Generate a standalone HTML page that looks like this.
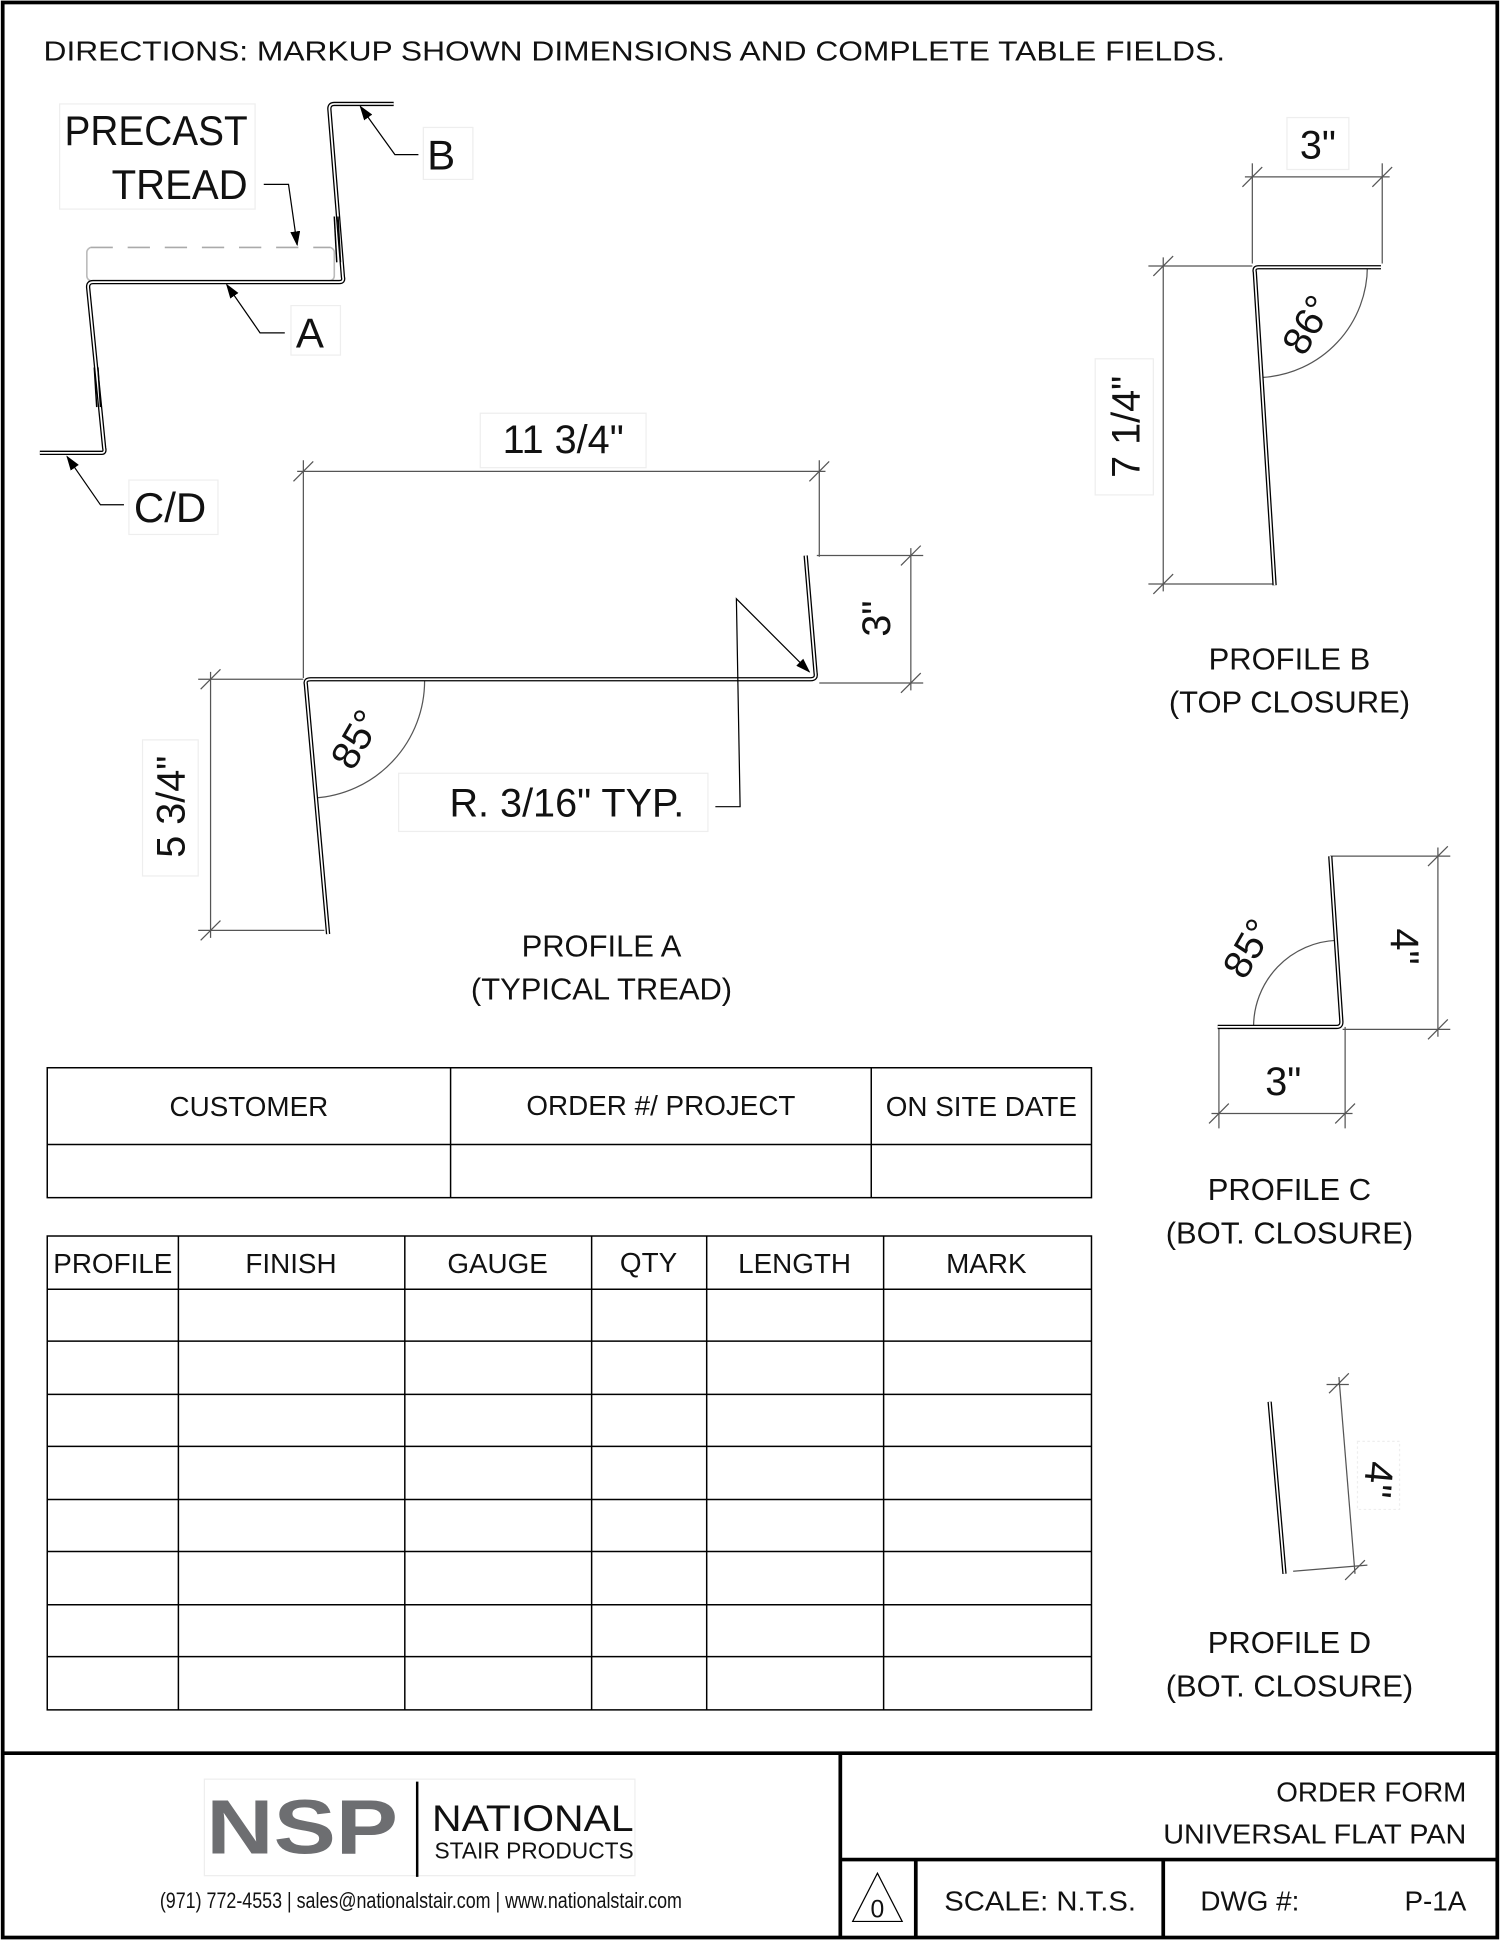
<!DOCTYPE html>
<html><head><meta charset="utf-8"><style>
html,body{margin:0;padding:0;background:#fff}
svg{display:block}
text{font-family:"Liberation Sans",sans-serif;fill:#111}
</style></head><body>
<svg width="1500" height="1940" viewBox="0 0 1212 1568" xmlns="http://www.w3.org/2000/svg">
<defs>
<marker id="ar" markerWidth="12" markerHeight="8" refX="11" refY="4" orient="auto" markerUnits="userSpaceOnUse"><path d="M0,0 L12,4 L0,8 z" fill="#000"/></marker>
</defs>
<rect x="2" y="2" width="1208" height="1564" fill="#fff" stroke="#000" stroke-width="3"/>
<text x="35" y="49" font-size="22.5" textLength="955" lengthAdjust="spacingAndGlyphs">DIRECTIONS: MARKUP SHOWN DIMENSIONS AND COMPLETE TABLE FIELDS.</text>

<!-- isometric -->
<rect x="70" y="200" width="200" height="27" rx="4" fill="none" stroke="#bbb" stroke-width="1.3"/>
<line x1="73" y1="200" x2="267" y2="200" stroke="#fff" stroke-width="2"/>
<line x1="73" y1="200" x2="267" y2="200" stroke="#aaa" stroke-width="1.3" stroke-dasharray="18,12"/>
<path d="M32,366 L82,366 Q85,366 84,362 L71,232 Q71,228 75,228 L274,228 Q278,228 277,224 L266,88 Q266,84 270,84 L318,84" fill="none" stroke="#000" stroke-width="3.5" stroke-linejoin="round"/>
<path d="M32,366 L82,366 Q85,366 84,362 L71,232 Q71,228 75,228 L274,228 Q278,228 277,224 L266,88 Q266,84 270,84 L318,84" fill="none" stroke="#fff" stroke-width="1.4" stroke-linejoin="round"/>
<line x1="273" y1="175" x2="275" y2="212" stroke="#000" stroke-width="1.2"/>
<line x1="270" y1="175" x2="272" y2="212" stroke="#000" stroke-width="1.2"/>
<line x1="79" y1="297" x2="81" y2="329" stroke="#000" stroke-width="1.2"/>
<line x1="76" y1="297" x2="78" y2="329" stroke="#000" stroke-width="1.2"/>
<rect x="48" y="84" width="158" height="85" fill="#fff" stroke="#eee" stroke-width="1"/>
<text x="200" y="117" font-size="34" text-anchor="end" textLength="148" lengthAdjust="spacingAndGlyphs">PRECAST</text>
<text x="200" y="161" font-size="34" text-anchor="end" textLength="110" lengthAdjust="spacingAndGlyphs">TREAD</text>
<polyline points="213,149 233,149 240,198" fill="none" stroke="#000" stroke-width="1" marker-end="url(#ar)"/>
<polyline points="338,125 319,125 291,86" fill="none" stroke="#000" stroke-width="1" marker-end="url(#ar)"/>
<rect x="342" y="103" width="40" height="42" fill="#fff" stroke="#eee"/>
<text x="345" y="137" font-size="34">B</text>
<polyline points="230,269 210,269 183,230" fill="none" stroke="#000" stroke-width="1" marker-end="url(#ar)"/>
<rect x="235" y="247" width="40" height="40" fill="#fff" stroke="#eee"/>
<text x="239" y="281" font-size="34">A</text>
<polyline points="100,408 81,408 54,369" fill="none" stroke="#000" stroke-width="1" marker-end="url(#ar)"/>
<rect x="104" y="388" width="72" height="44" fill="#fff" stroke="#eee"/>
<text x="108" y="422" font-size="34">C/D</text>

<!-- Profile A -->
<g stroke="#555" stroke-width="1" fill="none">
<line x1="245" y1="372" x2="245" y2="548"/><line x1="662" y1="372" x2="662" y2="450"/>
<line x1="240" y1="381" x2="667" y2="381"/>
<line x1="237" y1="389" x2="253" y2="373"/><line x1="654" y1="389" x2="670" y2="373"/>
<line x1="660" y1="449" x2="746" y2="449"/><line x1="662" y1="552" x2="746" y2="552"/>
<line x1="736" y1="443" x2="736" y2="558"/>
<line x1="728" y1="457" x2="744" y2="441"/><line x1="728" y1="560" x2="744" y2="544"/>
<line x1="160" y1="549" x2="245" y2="549"/><line x1="160" y1="752" x2="262" y2="752"/>
<line x1="170" y1="543" x2="170" y2="758"/>
<line x1="162" y1="557" x2="178" y2="541"/><line x1="162" y1="760" x2="178" y2="744"/>
<path d="M343,550 A95,95 0 0 1 254,645"/>
</g>
<path d="M265,755 L247,553 Q246,549 251,549 L655,549 Q660,549 659,544 L651,449" fill="none" stroke="#000" stroke-width="3.5" stroke-linejoin="round"/>
<path d="M265,755 L247,553 Q246,549 251,549 L655,549 Q660,549 659,544 L651,449" fill="none" stroke="#fff" stroke-width="1.4" stroke-linejoin="round"/>
<rect x="388" y="334" width="134" height="44" fill="#fff" stroke="#eee"/>
<text x="455" y="366" font-size="32" text-anchor="middle">11 3/4"</text>
<text transform="translate(719,500) rotate(-90)" font-size="32" text-anchor="middle">3"</text>
<rect x="115" y="598" width="45" height="110" fill="#fff" stroke="#eee"/>
<text transform="translate(149,652) rotate(-90)" font-size="32" text-anchor="middle">5 3/4"</text>
<text transform="translate(297,603) rotate(-60)" font-size="32" text-anchor="middle">85°</text>
<polyline points="578,652 598,652 595,484 654,543" fill="none" stroke="#000" stroke-width="1" marker-end="url(#ar)"/>
<rect x="322" y="625" width="250" height="47" fill="#fff" stroke="#eee"/>
<text x="458" y="660" font-size="32" text-anchor="middle">R. 3/16" TYP.</text>
<text x="486" y="773" font-size="25" text-anchor="middle">PROFILE A</text>
<text x="486" y="808" font-size="25" text-anchor="middle">(TYPICAL TREAD)</text>

<!-- Profile B -->
<g stroke="#555" stroke-width="1" fill="none">
<line x1="1012" y1="132" x2="1012" y2="213"/><line x1="1117" y1="132" x2="1117" y2="213"/>
<line x1="1006" y1="143" x2="1123" y2="143"/>
<line x1="1004" y1="151" x2="1020" y2="135"/><line x1="1109" y1="151" x2="1125" y2="135"/>
<line x1="928" y1="215" x2="1012" y2="215"/><line x1="928" y1="472" x2="1030" y2="472"/>
<line x1="940" y1="208" x2="940" y2="478"/>
<line x1="932" y1="223" x2="948" y2="207"/><line x1="932" y1="480" x2="948" y2="464"/>
<path d="M1105,215 A90,90 0 0 1 1021,305"/>
</g>
<path d="M1116,216 L1017,216 Q1013,216 1014,220 L1030,473" fill="none" stroke="#000" stroke-width="3.5" stroke-linejoin="round"/>
<path d="M1116,216 L1017,216 Q1013,216 1014,220 L1030,473" fill="none" stroke="#fff" stroke-width="1.4" stroke-linejoin="round"/>
<rect x="1040" y="95" width="50" height="42" fill="#fff" stroke="#eee"/>
<text x="1065" y="128" font-size="32" text-anchor="middle">3"</text>
<rect x="885" y="290" width="47" height="110" fill="#fff" stroke="#eee"/>
<text transform="translate(921,345) rotate(-90)" font-size="32" text-anchor="middle">7 1/4"</text>
<text transform="translate(1066,268) rotate(-60)" font-size="32" text-anchor="middle">86°</text>
<text x="1042" y="541" font-size="25" text-anchor="middle">PROFILE B</text>
<text x="1042" y="576" font-size="25" text-anchor="middle">(TOP CLOSURE)</text>

<!-- Profile C -->
<g stroke="#555" stroke-width="1" fill="none">
<line x1="1075" y1="692" x2="1172" y2="692"/><line x1="1085" y1="832" x2="1172" y2="832"/>
<line x1="1162" y1="685" x2="1162" y2="838"/>
<line x1="1154" y1="700" x2="1170" y2="684"/><line x1="1154" y1="840" x2="1170" y2="824"/>
<line x1="985" y1="830" x2="985" y2="912"/><line x1="1087" y1="830" x2="1087" y2="912"/>
<line x1="979" y1="900" x2="1093" y2="900"/>
<line x1="977" y1="908" x2="993" y2="892"/><line x1="1079" y1="908" x2="1095" y2="892"/>
<path d="M1013,830 A70,70 0 0 1 1080,760"/>
</g>
<path d="M984,830 L1080,830 Q1084,830 1084,826 L1075,692" fill="none" stroke="#000" stroke-width="3.5" stroke-linejoin="round"/>
<path d="M984,830 L1080,830 Q1084,830 1084,826 L1075,692" fill="none" stroke="#fff" stroke-width="1.4" stroke-linejoin="round"/>
<text transform="translate(1124,765) rotate(90)" font-size="32" text-anchor="middle">4"</text>
<text x="1037" y="885" font-size="32" text-anchor="middle">3"</text>
<text transform="translate(1018,772) rotate(-60)" font-size="32" text-anchor="middle">85°</text>
<text x="1042" y="970" font-size="25" text-anchor="middle">PROFILE C</text>
<text x="1042" y="1005" font-size="25" text-anchor="middle">(BOT. CLOSURE)</text>

<!-- Profile D -->
<path d="M1026,1133 L1038,1272" fill="none" stroke="#000" stroke-width="3.5"/>
<path d="M1026,1133 L1038,1272" fill="none" stroke="#fff" stroke-width="1.4"/>
<g stroke="#555" stroke-width="1" fill="none">
<line x1="1072" y1="1119" x2="1090" y2="1119"/><line x1="1045" y1="1270" x2="1105" y2="1265"/>
<line x1="1082" y1="1113" x2="1095" y2="1272"/>
<line x1="1074" y1="1126" x2="1090" y2="1110"/><line x1="1087" y1="1277" x2="1103" y2="1261"/>
</g>
<rect x="1097" y="1165" width="34" height="55" fill="#fff" stroke="#eee" stroke-dasharray="2,2"/>
<text transform="translate(1103,1195) rotate(95)" font-size="32" text-anchor="middle">4"</text>
<text x="1042" y="1336" font-size="25" text-anchor="middle">PROFILE D</text>
<text x="1042" y="1371" font-size="25" text-anchor="middle">(BOT. CLOSURE)</text>

<!-- Table 1 -->
<g stroke="#000" stroke-width="1.2" fill="none">
<rect x="38" y="863" width="844" height="105"/>
<line x1="38" y1="925" x2="882" y2="925"/>
<line x1="364" y1="863" x2="364" y2="968"/><line x1="704" y1="863" x2="704" y2="968"/>
</g>
<g font-size="22.5" text-anchor="middle">
<text x="201" y="902">CUSTOMER</text><text x="534" y="901">ORDER #/ PROJECT</text><text x="793" y="902">ON SITE DATE</text>
</g>
<!-- Table 2 -->
<g stroke="#000" stroke-width="1.2" fill="none">
<rect x="38" y="999" width="844" height="383"/>
<line x1="38" y1="1042" x2="882" y2="1042"/><line x1="38" y1="1084" x2="882" y2="1084"/>
<line x1="38" y1="1127" x2="882" y2="1127"/><line x1="38" y1="1169" x2="882" y2="1169"/>
<line x1="38" y1="1212" x2="882" y2="1212"/><line x1="38" y1="1254" x2="882" y2="1254"/>
<line x1="38" y1="1297" x2="882" y2="1297"/><line x1="38" y1="1339" x2="882" y2="1339"/>
<line x1="144" y1="999" x2="144" y2="1382"/><line x1="327" y1="999" x2="327" y2="1382"/>
<line x1="478" y1="999" x2="478" y2="1382"/><line x1="571" y1="999" x2="571" y2="1382"/>
<line x1="714" y1="999" x2="714" y2="1382"/>
</g>
<g font-size="22.5" text-anchor="middle">
<text x="91" y="1029">PROFILE</text><text x="235" y="1029">FINISH</text><text x="402" y="1029">GAUGE</text>
<text x="524" y="1028">QTY</text><text x="642" y="1029">LENGTH</text><text x="797" y="1029">MARK</text>
</g>

<!-- Title block -->
<g stroke="#000" stroke-width="3" fill="none">
<line x1="2" y1="1417" x2="1210" y2="1417"/>
<line x1="679" y1="1417" x2="679" y2="1566"/>
<line x1="679" y1="1503" x2="1210" y2="1503"/>
<line x1="740" y1="1503" x2="740" y2="1566"/><line x1="940" y1="1503" x2="940" y2="1566"/>
</g>
<rect x="165" y="1438" width="348" height="78" fill="#fff" stroke="#eee"/>
<text x="244" y="1498" font-size="62" font-weight="bold" style="fill:#6d6e71" text-anchor="middle" textLength="155" lengthAdjust="spacingAndGlyphs">NSP</text>
<line x1="337" y1="1440" x2="337" y2="1517" stroke="#000" stroke-width="2"/>
<text x="349" y="1480" font-size="30" textLength="163" lengthAdjust="spacingAndGlyphs">NATIONAL</text>
<text x="351" y="1502" font-size="19" textLength="161" lengthAdjust="spacingAndGlyphs">STAIR PRODUCTS</text>
<text x="340" y="1542" font-size="18" text-anchor="middle" textLength="422" lengthAdjust="spacingAndGlyphs">(971) 772-4553 | sales@nationalstair.com | www.nationalstair.com</text>
<text x="1185" y="1456" font-size="22.5" text-anchor="end">ORDER FORM</text>
<text x="1185" y="1490" font-size="22.5" text-anchor="end" textLength="245" lengthAdjust="spacingAndGlyphs">UNIVERSAL FLAT PAN</text>
<path d="M709,1514 L729,1553 L689,1553 z" fill="none" stroke="#000" stroke-width="1"/>
<text x="709" y="1550" font-size="20" text-anchor="middle">0</text>
<text x="763" y="1544" font-size="22.5" textLength="155" lengthAdjust="spacingAndGlyphs">SCALE:  N.T.S.</text>
<text x="970" y="1544" font-size="22.5">DWG #:</text>
<text x="1185" y="1544" font-size="22.5" text-anchor="end">P-1A</text>
</svg>
</body></html>
